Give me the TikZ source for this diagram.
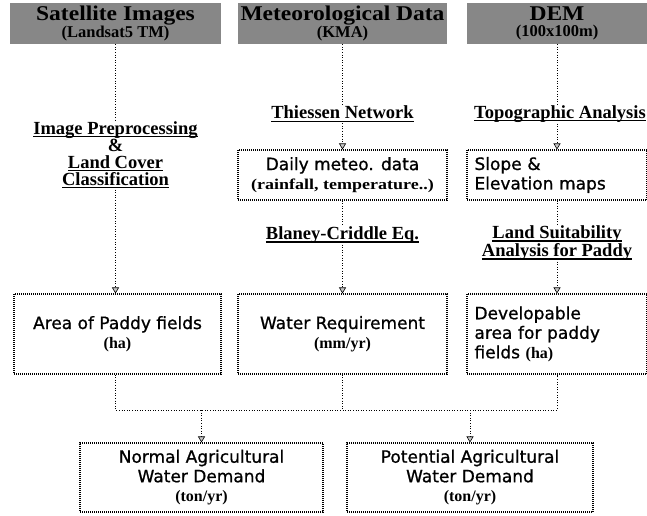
\documentclass[tikz,border=0pt]{standalone}
\usepackage{fontspec}
\setmainfont{Liberation Serif}
\newfontfamily\boxfont[FakeBold=0.9]{DejaVu Sans}
\usetikzlibrary{arrows.meta}
\newcommand{\myul}[1]{\setbox0\hbox{#1}\rlap{\vrule width\wd0 height -1.7pt depth 3.1pt}\box0}
\newcommand{\hdrA}{\fontsize{21}{16}\selectfont\bfseries\addfontfeature{FakeStretch=1.12}}
\newcommand{\hdrB}{\fontsize{16.5}{16}\selectfont\bfseries}
\newcommand{\bxt}{\boxfont\fontsize{17}{19.5}\selectfont}
\newcommand{\unit}{\rmfamily\fontsize{16}{19.5}\selectfont\bfseries}
\tikzset{
  hdr/.style={fill=black!47, minimum height=41pt, inner sep=0pt, align=center, font=\hdrB},
  lbl/.style={font=\fontsize{18.5}{17}\selectfont\bfseries, align=center, inner sep=1pt},
  bx/.style={draw, dash pattern=on 1pt off 1pt, line width=1.1pt, inner sep=0pt, align=center, font=\bxt},
  conn/.style={dash pattern=on 1pt off 1.6pt, line width=0.9pt},
  arr/.style={conn, -{Triangle[width=7pt,length=6pt,fill=gray!45,line width=0.6pt]}}
}
\begin{document}
\begin{tikzpicture}[x=1pt,y=-1pt]
\useasboundingbox (0,0) rectangle (647,515);
\fill[white] (0,0) rectangle (647,515);
% headers
\node[hdr, minimum width=211pt] (h1) at (115.5,23.5) {{\hdrA Satellite Images}\\(Landsat5 TM)};
\node[hdr, minimum width=209pt] (h2) at (342.5,23.5) {{\hdrA Meteorological Data}\\(KMA)};
\node[hdr, minimum width=180pt] (h3) at (557,23.5) {{\hdrA DEM}\\(100x100m)};
% labels
\node[lbl] (tn) at (342.5,114) {\myul{Thiessen Network}};
\node[lbl] (ta) at (560,114) {\myul{Topographic Analysis}};
\node[lbl] (ip) at (115.5,155) {\myul{Image Preprocessing}\\\&\\\myul{Land Cover}\\\myul{Classification}};
\node[lbl] (bc) at (342.5,235) {\myul{Blaney-Criddle Eq.}};
\node[lbl] (ls) at (557,243) {\myul{Land Suitability}\\\myul{Analysis for Paddy}};
% boxes
\node[bx, minimum width=209pt, minimum height=50pt] (dm) at (342.5,175) {Daily meteo. data\\{\unit\fontsize{15}{19.5}\selectfont\addfontfeature{FakeStretch=1.2}(rainfall, temperature..)}};
\node[bx, minimum width=180pt, minimum height=50pt, text width=165pt, align=left] (se) at (557,175) {Slope \&\\Elevation maps};
\node[bx, minimum width=207pt, minimum height=80pt] (ap) at (117.5,334) {Area of Paddy fields\\{\unit (ha)}};
\node[bx, minimum width=209pt, minimum height=80pt] (wr) at (342.5,334) {Water Requirement\\{\unit (mm/yr)}};
\node[bx, minimum width=180pt, minimum height=80pt, text width=165pt, align=left] (dv) at (557,334) {Developable\\area for paddy\\fields {\unit (ha)}};
\node[bx, minimum width=243pt, minimum height=69pt] (na) at (201.5,477.5) {Normal Agricultural\\Water Demand\\{\unit (ton/yr)}};
\node[bx, minimum width=246pt, minimum height=69pt] (pa) at (470,477.5) {Potential Agricultural\\Water Demand\\{\unit (ton/yr)}};
% connectors
\draw[conn] (h1.south -| ip) -- (ip.north);
\draw[arr] (ip.south) -- (ap.north -| ip);
\draw[conn] (h2.south) -- (tn.north);
\draw[arr] (tn.south) -- (dm.north);
\draw[conn] (dm.south) -- (bc.north);
\draw[arr] (bc.south) -- (wr.north);
\draw[conn] (h3.south) -- (ta.north -| h3);
\draw[arr] (ta.south -| h3) -- (se.north);
\draw[conn] (se.south) -- (ls.north);
\draw[arr] (ls.south) -- (dv.north);
\coordinate (bl) at (115.5,410);
\coordinate (bm) at (342.5,410);
\coordinate (br) at (557,410);
\draw[conn] (ap.south -| bl) -- (bl) -- (br) -- (dv.south);
\draw[conn] (wr.south) -- (bm);
\draw[arr] (na.north |- bl) -- (na.north);
\draw[arr] (pa.north |- bl) -- (pa.north);
\end{tikzpicture}
\end{document}
